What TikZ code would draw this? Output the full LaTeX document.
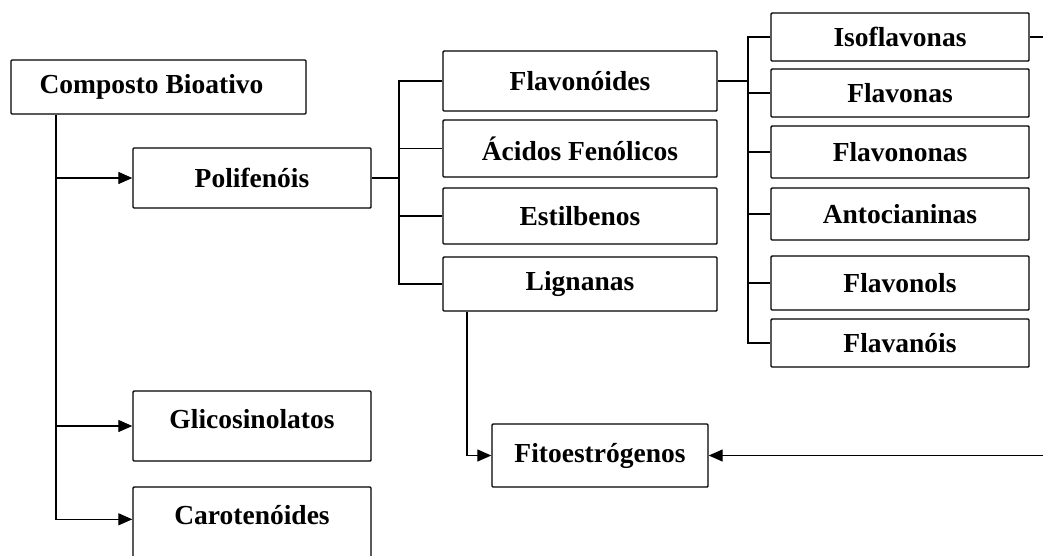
\documentclass[tikz,border=0pt]{standalone}
\usepackage{fontspec}
\setmainfont{Liberation Serif}
\usetikzlibrary{arrows.meta}
\begin{document}
\begin{tikzpicture}[x=1pt,y=-1pt,
  txt/.style={font=\fontsize{27.5}{30}\selectfont\bfseries},
  box/.style={draw, line width=1.4pt, rounded corners=1pt, inner sep=0pt, align=center, txt},
  conn/.style={line width=1.3pt},
  arr/.style={conn, -{Triangle[length=14pt,width=12pt]}},
  toplabel/.style={label={[anchor=center, yshift=-29pt, txt]north:#1}}]
\clip (0,0) rectangle (1043,555);
\fill[white] (0,0) rectangle (1043,555);

% main nodes
\node[box, minimum width=295pt, minimum height=54pt] (comp) at (158.5,87) {\hspace*{-14pt}Composto Bioativo};
\node[box, minimum width=238pt, minimum height=60pt] (poli) at (252,178) {Polifenóis};
\node[box, minimum width=238pt, minimum height=70pt, toplabel=Glicosinolatos] (glico) at (252,426) {};
\node[box, minimum width=238pt, minimum height=90pt, toplabel=Carotenóides] (carot) at (252,532) {};

% polyphenol classes
\node[box, minimum width=274pt, minimum height=60pt] (flav) at (580,81) {Flavonóides};
\node[box, minimum width=274pt, minimum height=57pt] (acid) at (580,148.5) {Ácidos Fenólicos};
\node[box, minimum width=274pt, minimum height=56pt] (esti) at (580,216) {Estilbenos};
\node[box, minimum width=274pt, minimum height=54pt] (lign) at (580,284) {Lignanas};

% flavonoid subclasses
\node[box, minimum width=258pt, minimum height=48pt] (iso)  at (900,37)  {Isoflavonas};
\node[box, minimum width=258pt, minimum height=48pt] (fona) at (900,93)  {Flavonas};
\node[box, minimum width=258pt, minimum height=52pt] (fnon) at (900,152) {Flavononas};
\node[box, minimum width=258pt, minimum height=52pt] (anto) at (900,214) {Antocianinas};
\node[box, minimum width=258pt, minimum height=54pt] (fols) at (900,283) {Flavonols};
\node[box, minimum width=258pt, minimum height=48pt] (fnois) at (900,343) {Flavanóis};

% phytoestrogens
\node[box, minimum width=216pt, minimum height=63pt] (fito) at (600,455.5) {Fitoestrógenos};

% helper coordinates
\coordinate (trunk) at (56,0);
\coordinate (b1) at (399,0);
\coordinate (b2) at (748,0);
\coordinate (lx) at (467,0);
\coordinate (rx) at (1060,0);

% trunk from Composto Bioativo
\draw[arr] (comp.south -| trunk) |- ([yshift=-33pt]carot.north west);
\draw[arr] (trunk |- poli.west) -- (poli.west);
\draw[arr] (trunk |- glico.west) -- (glico.west);

% bracket from Polifenóis
\draw[conn] (poli.east) -- (b1 |- poli.east);
\draw[conn] (flav.west) -| (b1 |- lign.west) -- (lign.west);
\draw[conn] (b1 |- acid.west) -- (acid.west);
\draw[conn] (b1 |- esti.west) -- (esti.west);

% bracket from Flavonóides
\draw[conn] (flav.east) -- (b2 |- flav.east);
\draw[conn] (iso.west) -| (b2 |- fnois.west) -- (fnois.west);
\draw[conn] (b2 |- fona.west) -- (fona.west);
\draw[conn] (b2 |- fnon.west) -- (fnon.west);
\draw[conn] (b2 |- anto.west) -- (anto.west);
\draw[conn] (b2 |- fols.west) -- (fols.west);

% to Fitoestrógenos
\draw[arr] (lign.south -| lx) |- (fito.west);
\draw[arr] (iso.east) -- (rx |- iso.east) |- (fito.east);
\end{tikzpicture}
\end{document}
